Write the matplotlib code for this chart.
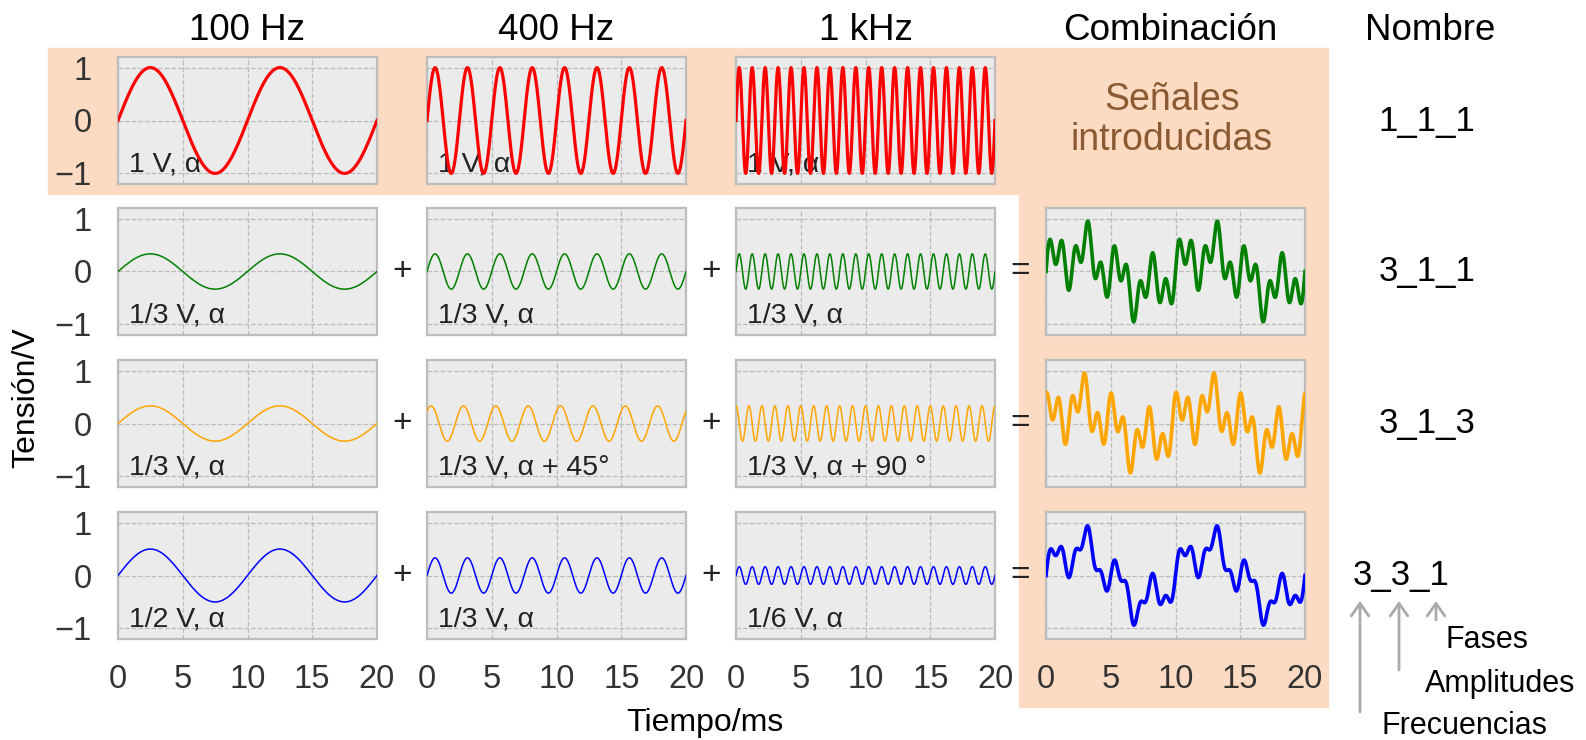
import numpy as np
import matplotlib
matplotlib.use('Agg')
import matplotlib.pyplot as plt
from matplotlib.patches import Rectangle, FancyArrowPatch

plt.rcParams['font.family'] = ['Liberation Sans', 'DejaVu Sans']

# data: three sine components per row (frequency, amplitude, phase)
col_titles = ['100 Hz', '400 Hz', '1 kHz', 'Combinación']
freqs_hz = [100, 400, 1000]
amps = [[1, 1, 1],
        [1/3, 1/3, 1/3],
        [1/3, 1/3, 1/3],
        [1/2, 1/3, 1/6]]
phases_deg = [[0, 0, 0],
              [0, 0, 0],
              [0, 45, 90],
              [0, 0, 0]]
labels = [['1 V, α', '1 V, α', '1 V, α'],
          ['1/3 V, α', '1/3 V, α', '1/3 V, α'],
          ['1/3 V, α', '1/3 V, α + 45°', '1/3 V, α + 90 °'],
          ['1/2 V, α', '1/3 V, α', '1/6 V, α']]
row_colors = ['red', 'green', 'orange', 'blue']
row_names = ['1_1_1', '3_1_1', '3_1_3', '3_3_1']

t_ms = np.linspace(0, 20, 2001)

W, H = 1586, 740
fig = plt.figure(figsize=(W / 100, H / 100), dpi=100)


def fx(px):
    return px / W


def fy(py):
    return 1 - py / H


peach = '#FCDBC2'
# peach background: top band + combination column
fig.patches.append(Rectangle((fx(48), fy(194)), fx(1328) - fx(48), fy(48) - fy(194),
                             transform=fig.transFigure, color=peach, zorder=-2))
fig.patches.append(Rectangle((fx(1019), fy(707)), fx(1328) - fx(1019), fy(194) - fy(707),
                             transform=fig.transFigure, color=peach, zorder=-2))

col_left = [118, 427, 736, 1046]
row_top = [57, 208, 360, 512]
ax_w, ax_h = 259, 127


def style(ax, row, col):
    ax.set_facecolor('#EBEBEB')
    for s in ax.spines.values():
        s.set_color('#BDBDBD')
        s.set_linewidth(1.6)
    ax.set_xlim(0, 20)
    ax.set_ylim(-1.2, 1.2)
    ax.set_xticks([0, 5, 10, 15, 20])
    ax.set_yticks([-1, 0, 1])
    ax.grid(True, ls='--', color='#BBBBBB', lw=0.9)
    ax.set_axisbelow(True)
    ax.tick_params(axis='x', length=0, labelsize=23.5, colors='#333333', pad=18)
    ax.tick_params(axis='y', length=0, labelsize=23.5, colors='#333333', pad=19)
    if col != 0:
        ax.tick_params(axis='y', labelleft=False)
    if row != 3:
        ax.tick_params(axis='x', labelbottom=False)


for r in range(4):
    total = np.zeros_like(t_ms)
    for c in range(3):
        y = amps[r][c] * np.sin(2 * np.pi * freqs_hz[c] * t_ms / 1000
                                + np.deg2rad(phases_deg[r][c]))
        total += y
        ax = fig.add_axes([fx(col_left[c]), fy(row_top[r] + ax_h), ax_w / W, ax_h / H])
        style(ax, r, c)
        ax.plot(t_ms, y, color=row_colors[r], lw=2.3 if r == 0 else 1.1, zorder=3)
        ax.text(0.042, 0.1, labels[r][c], transform=ax.transAxes, fontsize=20.5,
                color='#222222', zorder=2)
    if r > 0:
        ax = fig.add_axes([fx(col_left[3]), fy(row_top[r] + ax_h), ax_w / W, ax_h / H])
        style(ax, r, 3)
        ax.plot(t_ms, total, color=row_colors[r], lw=2.6, zorder=3)
        yc = row_top[r] + ax_h / 2
        for xp in (402, 711):
            fig.text(fx(xp), fy(yc), '+', fontsize=24, ha='center', va='center', color='#222222')
        fig.text(fx(1020), fy(yc), '=', fontsize=24, ha='center', va='center', color='#222222')

# column titles
for c, title in enumerate(col_titles):
    xc = col_left[c] + ax_w / 2 if c < 3 else 1170
    fig.text(fx(xc), fy(30), title, fontsize=26.5, ha='center', va='center')
fig.text(fx(1430), fy(30), 'Nombre', fontsize=26.5, ha='center', va='center')

fig.text(fx(1172), fy(120), 'Señales\nintroducidas', fontsize=27, ha='center', va='center',
         color='#8C5A32', linespacing=1.15)

name_x = [1427, 1427, 1427, 1401]
for r, name in enumerate(row_names):
    fig.text(fx(name_x[r]), fy(row_top[r] + ax_h / 2 + 10), name, fontsize=25,
             ha='center', va='baseline')

fig.text(fx(26), fy(398), 'Tensión/V', fontsize=23, rotation=90, ha='center', va='center')
fig.text(fx(705), fy(723), 'Tiempo/ms', fontsize=23, ha='center', va='center')

# legend of the name code
for xa, tail in [(1360, 712), (1399, 670), (1436, 620)]:
    fig.patches.append(FancyArrowPatch((fx(xa), fy(tail)), (fx(xa), fy(601)),
                                       transform=fig.transFigure,
                                       arrowstyle='->,head_length=0.5,head_width=0.35',
                                       mutation_scale=18, color='#AAAAAA', lw=2,
                                       shrinkA=0, shrinkB=0))
fig.text(fx(1487), fy(640), 'Fases', fontsize=22, ha='center', va='center')
fig.text(fx(1500), fy(684), 'Amplitudes', fontsize=22, ha='center', va='center')
fig.text(fx(1465), fy(726), 'Frecuencias', fontsize=22, ha='center', va='center')

fig.savefig('out.png', dpi=100)
